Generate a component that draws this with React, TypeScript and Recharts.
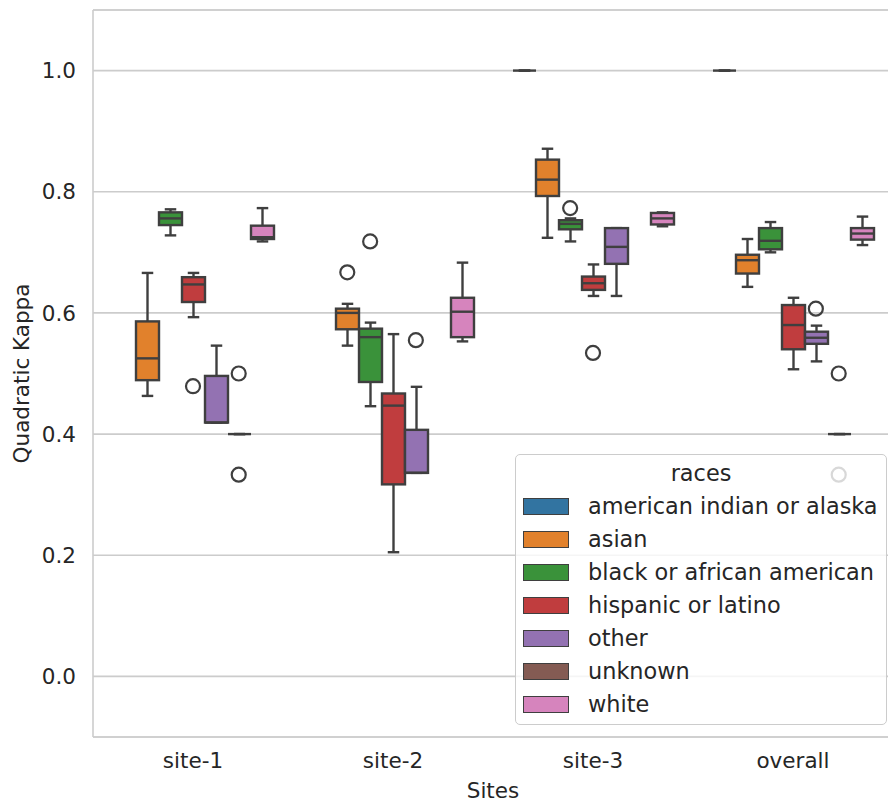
import React from 'react';
import {
  Bar,
  CartesianGrid,
  ComposedChart,
  ReferenceLine,
  Scatter,
  XAxis,
  YAxis,
} from 'recharts';

// Sites along the x axis
const SITES = ['site-1', 'site-2', 'site-3', 'overall'];

// Race groups (hue) and their desaturated tab10 colours
const RACES = [
  'american indian or alaska',
  'asian',
  'black or african american',
  'hispanic or latino',
  'other',
  'unknown',
  'white',
];
const RACE_COLORS = ['#3274a1', '#e1812c', '#3a923a', '#c03d3e', '#9372b2', '#845b53', '#d684bd'];

// Box stats per site: [whisker low, q1, median, q3, whisker high]
type Stats = [number, number, number, number, number] | null;

const americanIndian: Stats[] = [null, null, [1, 1, 1, 1, 1], [1, 1, 1, 1, 1]];
const asian: Stats[] = [
  [0.463, 0.489, 0.525, 0.586, 0.666],
  [0.546, 0.573, 0.6, 0.607, 0.615],
  [0.724, 0.793, 0.82, 0.853, 0.871],
  [0.643, 0.665, 0.687, 0.696, 0.722],
];
const black: Stats[] = [
  [0.728, 0.745, 0.756, 0.766, 0.771],
  [0.446, 0.486, 0.56, 0.574, 0.584],
  [0.718, 0.738, 0.747, 0.753, 0.756],
  [0.7, 0.705, 0.719, 0.74, 0.75],
];
const hispanic: Stats[] = [
  [0.593, 0.618, 0.647, 0.659, 0.666],
  [0.205, 0.317, 0.447, 0.467, 0.565],
  [0.628, 0.638, 0.649, 0.66, 0.68],
  [0.507, 0.54, 0.58, 0.613, 0.625],
];
const other: Stats[] = [
  [0.419, 0.419, 0.419, 0.496, 0.546],
  [0.336, 0.336, 0.336, 0.407, 0.478],
  [0.628, 0.681, 0.709, 0.74, 0.74],
  [0.52, 0.549, 0.559, 0.569, 0.579],
];
const unknown: Stats[] = [[0.4, 0.4, 0.4, 0.4, 0.4], null, null, [0.4, 0.4, 0.4, 0.4, 0.4]];
const white: Stats[] = [
  [0.718, 0.722, 0.725, 0.744, 0.773],
  [0.553, 0.56, 0.602, 0.625, 0.683],
  [0.743, 0.746, 0.756, 0.765, 0.766],
  [0.712, 0.721, 0.731, 0.74, 0.759],
];

// Fliers per race, per site
const americanIndianOutliers: number[][] = [[], [], [], []];
const asianOutliers: number[][] = [[], [0.667], [], []];
const blackOutliers: number[][] = [[], [0.718], [0.773], []];
const hispanicOutliers: number[][] = [[0.479], [], [0.534], []];
const otherOutliers: number[][] = [[], [0.555], [], [0.607]];
const unknownOutliers: number[][] = [[0.5, 0.333], [], [], [0.5, 0.333]];
const whiteOutliers: number[][] = [[], [], [], []];

const Y_TICKS = [0, 0.2, 0.4, 0.6, 0.8, 1.0];

const STATS = [americanIndian, asian, black, hispanic, other, unknown, white];
const OUTLIERS = [
  americanIndianOutliers,
  asianOutliers,
  blackOutliers,
  hispanicOutliers,
  otherOutliers,
  unknownOutliers,
  whiteOutliers,
];

const LINE = '#3f3f3f';
const TEXT = '#262626';
const GRID = '#cccccc';
const FONT = '"DejaVu Sans", sans-serif';
const BOX_SPAN = 0.8;

// one row per site, each race gets a [low, high] whisker range
const rows = SITES.map((site, s) => {
  const row: Record<string, any> = { site, stats: STATS.map((h) => h[s]) };
  STATS.forEach((h, i) => {
    const st = h[s];
    row[`r${i}`] = st ? [st[0], st[4]] : null;
  });
  return row;
});

// fliers placed on a numeric axis, dodged like the boxes
const fliers = OUTLIERS.flatMap((h, i) =>
  h.flatMap((vals, s) =>
    vals.map((v) => ({
      x: s + (i - (RACES.length - 1) / 2) * (BOX_SPAN / RACES.length),
      y: v,
    })),
  ),
);

const makeBox = (hue: number) => (props: any) => {
  const { x, y, width, height, payload } = props;
  const st: Stats = payload?.stats?.[hue];
  if (!st || x == null || y == null) return <g />;
  const [lo, q1, med, q3, hi] = st;
  const top = Math.min(y, y + height);
  const span = Math.abs(height);
  const py = (v: number) => (hi === lo ? top : top + ((hi - v) / (hi - lo)) * span);
  const cx = x + width / 2;
  const cap = width / 4;
  return (
    <g stroke={LINE} strokeWidth={2.4}>
      <line x1={cx} x2={cx} y1={py(hi)} y2={py(q3)} />
      <line x1={cx} x2={cx} y1={py(q1)} y2={py(lo)} />
      <line x1={cx - cap} x2={cx + cap} y1={py(hi)} y2={py(hi)} />
      <line x1={cx - cap} x2={cx + cap} y1={py(lo)} y2={py(lo)} />
      <rect
        x={x}
        y={py(q3)}
        width={width}
        height={Math.max(py(q1) - py(q3), 0)}
        fill={RACE_COLORS[hue]}
      />
      <line x1={x} x2={x + width} y1={py(med)} y2={py(med)} />
    </g>
  );
};

const Flier = (props: any) => {
  const { cx, cy } = props;
  if (cx == null || cy == null) return <g />;
  return <circle cx={cx} cy={cy} r={7} fill="none" stroke={LINE} strokeWidth={2.2} />;
};

const RaceLegend = () => (
  <div
    style={{
      position: 'absolute',
      left: 515,
      top: 454,
      width: 372,
      height: 271,
      boxSizing: 'border-box',
      background: 'rgba(255,255,255,0.8)',
      border: `1.5px solid ${GRID}`,
      borderRadius: 5,
      fontFamily: FONT,
      fontSize: 22.4,
      color: TEXT,
    }}
  >
    <div style={{ position: 'absolute', top: 5, left: 0, right: 0, textAlign: 'center' }}>races</div>
    {RACES.map((race, i) => (
      <div
        key={race}
        style={{ position: 'absolute', left: 7, top: 38 + i * 33, height: 26, display: 'flex', alignItems: 'center' }}
      >
        <div
          style={{
            width: 46,
            height: 17,
            boxSizing: 'border-box',
            background: RACE_COLORS[i],
            border: `1.5px solid ${LINE}`,
          }}
        />
        <span style={{ marginLeft: 19, whiteSpace: 'nowrap' }}>{race}</span>
      </div>
    ))}
  </div>
);

export default function App() {
  return (
    <div
      style={{
        position: 'absolute',
        left: 0,
        top: 0,
        width: 888,
        height: 804,
        overflow: 'hidden',
        background: '#fff',
        fontFamily: FONT,
      }}
    >
      <ComposedChart
        width={893}
        height={804}
        data={rows}
        margin={{ top: 10, right: 0, bottom: 0, left: 0 }}
        barCategoryGap="10%"
        barGap={0}
      >
        <CartesianGrid horizontal vertical={false} stroke={GRID} strokeWidth={1.6} />
        <XAxis
          dataKey="site"
          type="category"
          height={67}
          tickLine={false}
          tickSize={6}
          tickMargin={10}
          axisLine={{ stroke: GRID, strokeWidth: 1.6 }}
          tick={{ fontSize: 21.5, fill: TEXT, fontFamily: FONT }}
          label={{ value: 'Sites', position: 'insideBottom', offset: 6, fontSize: 21.5, fill: TEXT, fontFamily: FONT }}
        />
        <XAxis xAxisId="n" type="number" dataKey="x" domain={[-0.5, 3.5]} hide allowDataOverflow />
        <YAxis
          type="number"
          width={93}
          domain={[-0.1, 1.1]}
          ticks={Y_TICKS}
          allowDataOverflow
          tickFormatter={(v: number) => v.toFixed(1)}
          tickLine={false}
          tickSize={6}
          tickMargin={11}
          axisLine={{ stroke: GRID, strokeWidth: 1.6 }}
          tick={{ fontSize: 21.5, fill: TEXT, fontFamily: FONT }}
          label={{
            value: 'Quadratic Kappa',
            angle: -90,
            position: 'insideLeft',
            offset: 21,
            style: { textAnchor: 'middle' },
            fontSize: 21.5,
            fill: TEXT,
            fontFamily: FONT,
          }}
        />
        <ReferenceLine y={1.1} stroke={GRID} strokeWidth={1.6} />
        {RACES.map((race, i) => (
          <Bar
            key={race}
            dataKey={`r${i}`}
            name={race}
            fill={RACE_COLORS[i]}
            shape={makeBox(i)}
            isAnimationActive={false}
          />
        ))}
        <Scatter xAxisId="n" data={fliers} dataKey="y" shape={Flier} isAnimationActive={false} />
      </ComposedChart>
      <RaceLegend />
    </div>
  );
}
